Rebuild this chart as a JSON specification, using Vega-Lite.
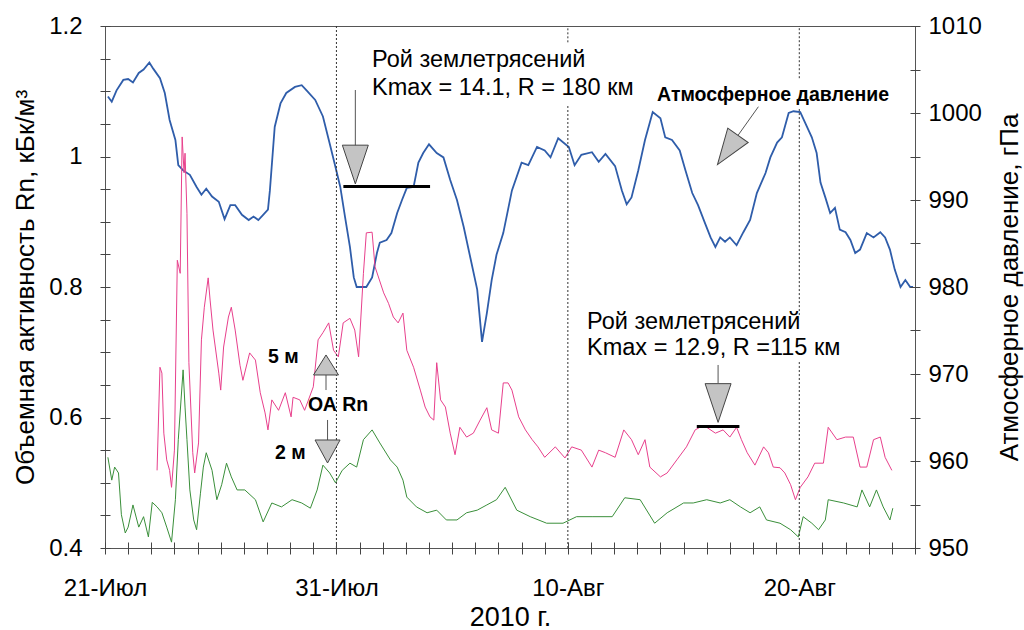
{
"$schema": "https://vega.github.io/schema/vega-lite/v6.json",
"width": 810,
"height": 522,
"autosize": {"type": "none"},
"padding": {"left": 105, "top": 26, "right": 109, "bottom": 82},
"config": {
  "view": {"stroke": "#555", "strokeWidth": 1},
  "font": "Liberation Sans",
  "axis": {"labelFont": "Liberation Sans", "titleFont": "Liberation Sans", "labelColor": "#000", "titleColor": "#000", "domain": false, "ticks": true, "tickColor": "#444", "tickWidth": 1, "tickOpacity": 1, "grid": false, "titleFontWeight": "normal", "labelOverlap": false, "labelBound": false, "zindex": 1}
},
"datasets": {
  "p": [
{"t":"2010-07-21T03:00","v":1001.9},{"t":"2010-07-21T07:00","v":1001.3},{"t":"2010-07-21T12:00","v":1002.6},{"t":"2010-07-21T19:00","v":1003.8},
{"t":"2010-07-22T00:00","v":1003.9},{"t":"2010-07-22T05:00","v":1003.5},{"t":"2010-07-22T11:00","v":1004.6},{"t":"2010-07-22T16:00","v":1005.0},
{"t":"2010-07-22T22:00","v":1005.8},{"t":"2010-07-23T02:00","v":1005.1},{"t":"2010-07-23T09:00","v":1004.0},{"t":"2010-07-23T14:00","v":1002.3},
{"t":"2010-07-23T19:00","v":999.2},{"t":"2010-07-24T01:00","v":996.9},{"t":"2010-07-24T04:00","v":994.0},{"t":"2010-07-24T09:00","v":993.4},
{"t":"2010-07-24T16:00","v":992.9},{"t":"2010-07-24T23:00","v":991.5},{"t":"2010-07-25T04:00","v":990.6},{"t":"2010-07-25T09:00","v":991.3},
{"t":"2010-07-25T15:00","v":990.4},{"t":"2010-07-25T22:00","v":989.8},{"t":"2010-07-26T04:00","v":987.8},{"t":"2010-07-26T10:00","v":989.4},
{"t":"2010-07-26T15:00","v":989.4},{"t":"2010-07-26T22:00","v":988.3},{"t":"2010-07-27T05:00","v":987.7},{"t":"2010-07-27T10:00","v":988.1},
{"t":"2010-07-27T15:00","v":987.7},{"t":"2010-07-27T20:00","v":988.3},{"t":"2010-07-28T01:00","v":988.9},{"t":"2010-07-28T03:00","v":991.1},
{"t":"2010-07-28T08:00","v":998.4},{"t":"2010-07-28T14:00","v":1001.1},{"t":"2010-07-28T20:00","v":1002.3},{"t":"2010-07-29T05:00","v":1003.0},
{"t":"2010-07-29T12:00","v":1003.2},{"t":"2010-07-29T17:00","v":1002.6},{"t":"2010-07-30T02:00","v":1001.5},{"t":"2010-07-30T10:00","v":999.6},
{"t":"2010-07-30T17:00","v":996.5},{"t":"2010-07-30T23:00","v":993.8},{"t":"2010-07-31T04:00","v":991.5},{"t":"2010-07-31T09:00","v":988.0},
{"t":"2010-07-31T14:00","v":984.6},{"t":"2010-07-31T18:00","v":981.1},{"t":"2010-07-31T21:00","v":980.0},{"t":"2010-08-01T07:00","v":980.0},
{"t":"2010-08-01T13:00","v":981.1},{"t":"2010-08-01T18:00","v":983.9},{"t":"2010-08-01T21:00","v":985.1},{"t":"2010-08-02T04:00","v":985.4},
{"t":"2010-08-02T09:00","v":986.2},{"t":"2010-08-02T15:00","v":988.5},{"t":"2010-08-02T20:00","v":990.0},{"t":"2010-08-03T01:00","v":991.4},
{"t":"2010-08-03T08:00","v":991.5},{"t":"2010-08-03T13:00","v":994.3},{"t":"2010-08-03T18:00","v":995.4},{"t":"2010-08-04T00:00","v":996.4},
{"t":"2010-08-04T08:00","v":995.4},{"t":"2010-08-04T15:00","v":994.9},{"t":"2010-08-04T22:00","v":992.3},{"t":"2010-08-05T05:00","v":990.0},
{"t":"2010-08-05T12:00","v":986.9},{"t":"2010-08-05T19:00","v":983.3},{"t":"2010-08-06T02:00","v":979.7},{"t":"2010-08-06T07:00","v":973.7},
{"t":"2010-08-06T12:00","v":977.0},{"t":"2010-08-06T17:00","v":980.8},{"t":"2010-08-06T22:00","v":983.7},{"t":"2010-08-07T05:00","v":986.2},
{"t":"2010-08-07T14:00","v":991.1},{"t":"2010-08-08T00:00","v":994.3},{"t":"2010-08-08T07:00","v":994.0},{"t":"2010-08-08T16:00","v":996.1},
{"t":"2010-08-09T00:00","v":995.7},{"t":"2010-08-09T06:00","v":994.9},{"t":"2010-08-09T14:00","v":997.1},{"t":"2010-08-10T01:00","v":996.1},
{"t":"2010-08-10T07:00","v":994.0},{"t":"2010-08-10T14:00","v":995.2},{"t":"2010-08-11T01:00","v":995.5},{"t":"2010-08-11T08:00","v":994.4},
{"t":"2010-08-11T15:00","v":995.3},{"t":"2010-08-12T01:00","v":993.9},{"t":"2010-08-12T08:00","v":991.1},{"t":"2010-08-12T13:00","v":989.5},
{"t":"2010-08-12T18:00","v":990.3},{"t":"2010-08-13T01:00","v":993.4},{"t":"2010-08-13T08:00","v":996.9},{"t":"2010-08-13T16:00","v":1000.1},
{"t":"2010-08-14T00:00","v":999.4},{"t":"2010-08-14T05:00","v":997.2},{"t":"2010-08-14T12:00","v":996.9},{"t":"2010-08-14T20:00","v":995.7},
{"t":"2010-08-15T02:00","v":993.4},{"t":"2010-08-15T09:00","v":990.8},{"t":"2010-08-15T15:00","v":989.4},{"t":"2010-08-15T22:00","v":987.4},
{"t":"2010-08-16T04:00","v":985.7},{"t":"2010-08-16T09:00","v":984.6},{"t":"2010-08-16T14:00","v":985.7},{"t":"2010-08-16T19:00","v":985.2},
{"t":"2010-08-17T00:00","v":985.7},{"t":"2010-08-17T07:00","v":984.8},{"t":"2010-08-17T14:00","v":986.3},{"t":"2010-08-17T21:00","v":987.7},
{"t":"2010-08-18T04:00","v":990.8},{"t":"2010-08-18T13:00","v":993.1},{"t":"2010-08-18T18:00","v":994.9},{"t":"2010-08-19T01:00","v":996.6},
{"t":"2010-08-19T06:00","v":997.2},{"t":"2010-08-19T13:00","v":1000.0},{"t":"2010-08-19T18:00","v":1000.2},{"t":"2010-08-20T01:00","v":1000.1},
{"t":"2010-08-20T06:00","v":998.9},{"t":"2010-08-20T13:00","v":997.2},{"t":"2010-08-20T18:00","v":995.4},{"t":"2010-08-20T22:00","v":992.0},
{"t":"2010-08-21T03:00","v":990.3},{"t":"2010-08-21T08:00","v":988.5},{"t":"2010-08-21T13:00","v":989.1},{"t":"2010-08-21T18:00","v":986.6},
{"t":"2010-08-22T00:00","v":986.3},{"t":"2010-08-22T05:00","v":985.4},{"t":"2010-08-22T10:00","v":983.9},{"t":"2010-08-22T15:00","v":984.3},
{"t":"2010-08-22T22:00","v":986.2},{"t":"2010-08-23T05:00","v":985.7},{"t":"2010-08-23T12:00","v":986.3},{"t":"2010-08-23T17:00","v":985.7},
{"t":"2010-08-23T22:00","v":984.3},{"t":"2010-08-24T03:00","v":982.0},{"t":"2010-08-24T09:00","v":980.0},{"t":"2010-08-24T14:00","v":980.8},
{"t":"2010-08-24T19:00","v":980.0},{"t":"2010-08-24T22:00","v":980.0}
  ],
  "r5": [
{"t":"2010-07-23T06:00","v":0.519},{"t":"2010-07-23T09:00","v":0.677},{"t":"2010-07-23T11:00","v":0.668},{"t":"2010-07-23T13:00","v":0.576},
{"t":"2010-07-23T16:00","v":0.535},{"t":"2010-07-23T19:00","v":0.519},{"t":"2010-07-23T21:00","v":0.493},{"t":"2010-07-24T00:00","v":0.550},
{"t":"2010-07-24T03:00","v":0.841},{"t":"2010-07-24T06:00","v":0.821},{"t":"2010-07-24T08:00","v":1.030},{"t":"2010-07-24T10:00","v":0.975},
{"t":"2010-07-24T11:00","v":1.005},{"t":"2010-07-24T13:00","v":0.913},{"t":"2010-07-24T15:00","v":0.684},{"t":"2010-07-24T19:00","v":0.546},
{"t":"2010-07-24T21:00","v":0.515},{"t":"2010-07-25T01:00","v":0.561},{"t":"2010-07-25T04:00","v":0.719},{"t":"2010-07-25T07:00","v":0.769},
{"t":"2010-07-25T11:00","v":0.814},{"t":"2010-07-25T13:00","v":0.780},{"t":"2010-07-25T16:00","v":0.734},{"t":"2010-07-25T22:00","v":0.668},
{"t":"2010-07-26T00:00","v":0.642},{"t":"2010-07-26T03:00","v":0.708},{"t":"2010-07-26T08:00","v":0.754},{"t":"2010-07-26T11:00","v":0.769},
{"t":"2010-07-26T15:00","v":0.734},{"t":"2010-07-26T20:00","v":0.680},{"t":"2010-07-26T23:00","v":0.657},{"t":"2010-07-27T06:00","v":0.699},
{"t":"2010-07-27T12:00","v":0.688},{"t":"2010-07-27T17:00","v":0.638},{"t":"2010-07-27T22:00","v":0.607},{"t":"2010-07-28T01:00","v":0.581},
{"t":"2010-07-28T05:00","v":0.627},{"t":"2010-07-28T12:00","v":0.611},{"t":"2010-07-28T19:00","v":0.638},{"t":"2010-07-29T01:00","v":0.601},
{"t":"2010-07-29T03:00","v":0.631},{"t":"2010-07-29T10:00","v":0.627},{"t":"2010-07-29T15:00","v":0.611},{"t":"2010-07-30T00:00","v":0.647},
{"t":"2010-07-30T05:00","v":0.719},{"t":"2010-07-30T10:00","v":0.730},{"t":"2010-07-30T16:00","v":0.745},{"t":"2010-07-30T21:00","v":0.703},
{"t":"2010-07-31T02:00","v":0.693},{"t":"2010-07-31T07:00","v":0.745},{"t":"2010-07-31T14:00","v":0.752},{"t":"2010-07-31T19:00","v":0.734},
{"t":"2010-07-31T23:00","v":0.693},{"t":"2010-08-01T04:00","v":0.821},{"t":"2010-08-01T07:00","v":0.883},{"t":"2010-08-01T13:00","v":0.884},
{"t":"2010-08-01T16:00","v":0.831},{"t":"2010-08-02T01:00","v":0.791},{"t":"2010-08-02T06:00","v":0.775},{"t":"2010-08-02T11:00","v":0.754},
{"t":"2010-08-02T16:00","v":0.745},{"t":"2010-08-02T21:00","v":0.760},{"t":"2010-08-03T01:00","v":0.703},{"t":"2010-08-03T08:00","v":0.677},
{"t":"2010-08-03T15:00","v":0.642},{"t":"2010-08-03T20:00","v":0.616},{"t":"2010-08-04T01:00","v":0.601},{"t":"2010-08-04T05:00","v":0.596},
{"t":"2010-08-04T08:00","v":0.684},{"t":"2010-08-04T12:00","v":0.627},{"t":"2010-08-04T17:00","v":0.616},{"t":"2010-08-04T22:00","v":0.576},
{"t":"2010-08-05T03:00","v":0.543},{"t":"2010-08-05T08:00","v":0.585},{"t":"2010-08-05T15:00","v":0.570},{"t":"2010-08-05T22:00","v":0.576},
{"t":"2010-08-06T05:00","v":0.596},{"t":"2010-08-06T12:00","v":0.615},{"t":"2010-08-06T17:00","v":0.581},{"t":"2010-08-07T00:00","v":0.576},
{"t":"2010-08-07T05:00","v":0.653},{"t":"2010-08-07T10:00","v":0.653},{"t":"2010-08-07T14:00","v":0.642},{"t":"2010-08-07T21:00","v":0.601},
{"t":"2010-08-08T04:00","v":0.581},{"t":"2010-08-08T11:00","v":0.566},{"t":"2010-08-08T17:00","v":0.555},{"t":"2010-08-09T00:00","v":0.539},
{"t":"2010-08-09T11:00","v":0.555},{"t":"2010-08-09T21:00","v":0.538},{"t":"2010-08-10T04:00","v":0.555},{"t":"2010-08-10T14:00","v":0.550},
{"t":"2010-08-11T01:00","v":0.524},{"t":"2010-08-11T08:00","v":0.550},{"t":"2010-08-11T15:00","v":0.546},{"t":"2010-08-12T01:00","v":0.539},
{"t":"2010-08-12T10:00","v":0.581},{"t":"2010-08-12T18:00","v":0.566},{"t":"2010-08-13T01:00","v":0.543},{"t":"2010-08-13T08:00","v":0.566},
{"t":"2010-08-13T13:00","v":0.524},{"t":"2010-08-14T00:00","v":0.509},{"t":"2010-08-14T07:00","v":0.515},{"t":"2010-08-14T17:00","v":0.535},
{"t":"2010-08-15T03:00","v":0.555},{"t":"2010-08-15T12:00","v":0.581},{"t":"2010-08-15T17:00","v":0.585},{"t":"2010-08-16T00:00","v":0.585},
{"t":"2010-08-16T09:00","v":0.576},{"t":"2010-08-16T17:00","v":0.581},{"t":"2010-08-17T00:00","v":0.570},{"t":"2010-08-17T07:00","v":0.585},
{"t":"2010-08-17T12:00","v":0.566},{"t":"2010-08-17T18:00","v":0.546},{"t":"2010-08-18T02:00","v":0.527},{"t":"2010-08-18T11:00","v":0.555},
{"t":"2010-08-18T16:00","v":0.546},{"t":"2010-08-18T21:00","v":0.524},{"t":"2010-08-19T04:00","v":0.523},{"t":"2010-08-19T09:00","v":0.515},
{"t":"2010-08-19T15:00","v":0.497},{"t":"2010-08-19T20:00","v":0.474},{"t":"2010-08-20T01:00","v":0.493},{"t":"2010-08-20T09:00","v":0.509},
{"t":"2010-08-20T16:00","v":0.530},{"t":"2010-08-21T01:00","v":0.530},{"t":"2010-08-21T06:00","v":0.585},{"t":"2010-08-21T15:00","v":0.566},
{"t":"2010-08-22T00:00","v":0.570},{"t":"2010-08-22T08:00","v":0.570},{"t":"2010-08-22T15:00","v":0.524},{"t":"2010-08-22T22:00","v":0.524},
{"t":"2010-08-23T05:00","v":0.566},{"t":"2010-08-23T12:00","v":0.570},{"t":"2010-08-23T17:00","v":0.539},{"t":"2010-08-24T00:00","v":0.519}
  ],
  "r2": [
{"t":"2010-07-21T03:00","v":0.539},{"t":"2010-07-21T07:00","v":0.504},{"t":"2010-07-21T10:00","v":0.524},{"t":"2010-07-21T14:00","v":0.515},
{"t":"2010-07-21T17:00","v":0.451},{"t":"2010-07-21T21:00","v":0.423},{"t":"2010-07-22T00:00","v":0.432},{"t":"2010-07-22T05:00","v":0.466},
{"t":"2010-07-22T11:00","v":0.432},{"t":"2010-07-22T16:00","v":0.448},{"t":"2010-07-22T21:00","v":0.417},{"t":"2010-07-23T01:00","v":0.470},
{"t":"2010-07-23T06:00","v":0.463},{"t":"2010-07-23T11:00","v":0.454},{"t":"2010-07-23T16:00","v":0.432},{"t":"2010-07-23T21:00","v":0.409},
{"t":"2010-07-24T01:00","v":0.474},{"t":"2010-07-24T04:00","v":0.566},{"t":"2010-07-24T09:00","v":0.673},{"t":"2010-07-24T11:00","v":0.616},
{"t":"2010-07-24T13:00","v":0.566},{"t":"2010-07-24T16:00","v":0.489},{"t":"2010-07-24T20:00","v":0.443},{"t":"2010-07-24T23:00","v":0.428},
{"t":"2010-07-25T03:00","v":0.484},{"t":"2010-07-25T06:00","v":0.524},{"t":"2010-07-25T09:00","v":0.546},{"t":"2010-07-25T15:00","v":0.519},
{"t":"2010-07-25T20:00","v":0.474},{"t":"2010-07-26T01:00","v":0.497},{"t":"2010-07-26T06:00","v":0.530},{"t":"2010-07-26T11:00","v":0.509},
{"t":"2010-07-26T17:00","v":0.489},{"t":"2010-07-27T01:00","v":0.489},{"t":"2010-07-27T12:00","v":0.474},{"t":"2010-07-27T20:00","v":0.440},
{"t":"2010-07-28T05:00","v":0.469},{"t":"2010-07-28T15:00","v":0.463},{"t":"2010-07-29T02:00","v":0.474},{"t":"2010-07-29T12:00","v":0.469},
{"t":"2010-07-29T21:00","v":0.461},{"t":"2010-07-30T04:00","v":0.489},{"t":"2010-07-30T10:00","v":0.527},{"t":"2010-07-30T17:00","v":0.515},
{"t":"2010-07-30T23:00","v":0.500},{"t":"2010-07-31T06:00","v":0.519},{"t":"2010-07-31T14:00","v":0.530},{"t":"2010-07-31T21:00","v":0.524},
{"t":"2010-08-01T04:00","v":0.566},{"t":"2010-08-01T13:00","v":0.581},{"t":"2010-08-01T21:00","v":0.561},{"t":"2010-08-02T08:00","v":0.535},
{"t":"2010-08-02T15:00","v":0.524},{"t":"2010-08-02T21:00","v":0.504},{"t":"2010-08-03T01:00","v":0.478},{"t":"2010-08-03T11:00","v":0.463},
{"t":"2010-08-03T22:00","v":0.454},{"t":"2010-08-04T08:00","v":0.458},{"t":"2010-08-04T18:00","v":0.443},{"t":"2010-08-05T05:00","v":0.443},
{"t":"2010-08-05T15:00","v":0.454},{"t":"2010-08-06T02:00","v":0.458},{"t":"2010-08-06T12:00","v":0.466},{"t":"2010-08-06T22:00","v":0.474},
{"t":"2010-08-07T07:00","v":0.493},{"t":"2010-08-07T19:00","v":0.458},{"t":"2010-08-08T09:00","v":0.448},{"t":"2010-08-09T02:00","v":0.438},
{"t":"2010-08-09T19:00","v":0.438},{"t":"2010-08-10T09:00","v":0.448},{"t":"2010-08-11T02:00","v":0.448},{"t":"2010-08-11T22:00","v":0.448},
{"t":"2010-08-12T11:00","v":0.477},{"t":"2010-08-13T03:00","v":0.474},{"t":"2010-08-13T18:00","v":0.438},{"t":"2010-08-14T07:00","v":0.454},
{"t":"2010-08-15T00:00","v":0.469},{"t":"2010-08-15T10:00","v":0.469},{"t":"2010-08-16T00:00","v":0.474},{"t":"2010-08-16T14:00","v":0.469},
{"t":"2010-08-17T00:00","v":0.474},{"t":"2010-08-17T11:00","v":0.463},{"t":"2010-08-17T21:00","v":0.454},{"t":"2010-08-18T07:00","v":0.463},
{"t":"2010-08-18T14:00","v":0.443},{"t":"2010-08-19T04:00","v":0.438},{"t":"2010-08-19T15:00","v":0.428},{"t":"2010-08-19T23:00","v":0.417},
{"t":"2010-08-20T04:00","v":0.448},{"t":"2010-08-20T13:00","v":0.438},{"t":"2010-08-20T20:00","v":0.428},{"t":"2010-08-21T03:00","v":0.443},
{"t":"2010-08-21T06:00","v":0.474},{"t":"2010-08-21T22:00","v":0.469},{"t":"2010-08-22T12:00","v":0.463},{"t":"2010-08-22T17:00","v":0.489},
{"t":"2010-08-23T01:00","v":0.463},{"t":"2010-08-23T08:00","v":0.489},{"t":"2010-08-23T15:00","v":0.463},{"t":"2010-08-23T22:00","v":0.443},
{"t":"2010-08-24T01:00","v":0.461}
  ]
},
"layer": [
  {
    "encoding": {
      "x": {"field": "t", "type": "temporal",
        "scale": {"domain": [{"year": 2010, "month": 7, "date": 21}, {"year": 2010, "month": 8, "date": 25}]},
        "axis": {"tickCount": {"interval": "day", "step": 1}, "ticks": true, "tickColor": "#444", "tickWidth": 1, "offset": -6, "tickSize": 12, "labelPadding": 22, "labelFontSize": 24,
          "labelExpr": "round((datum.value - datetime(2010,6,21))/864e5) % 10 == 0 ? (date(datum.value) + '-' + (month(datum.value) == 6 ? 'Июл' : 'Авг')) : ''",
          "title": "2010 г.", "titleFontSize": 27, "titlePadding": 4, "labelFlush": false, "zindex": 1}},
      "y": {"field": "v", "type": "quantitative", "scale": {"domain": [950, 1010]},
        "axis": {"orient": "right", "values": [950,955,960,965,970,975,980,985,990,995,1000,1005,1010],
          "labelExpr": "datum.value % 10 == 0 ? format(datum.value, 'd') : ''",
          "ticks": true, "tickColor": "#444", "tickWidth": 1,
          "offset": -5, "tickSize": 10, "labelPadding": 8, "labelFontSize": 24,
          "title": "Атмосферное давление, гПа", "titleFontSize": 26, "titleAngle": 270, "titleBaseline": "top", "titlePadding": 15, "zindex": 1}}},
    "layer": [
      {"data": {"name": "p"}, "mark": {"type": "line", "color": "#2f5daa", "strokeWidth": 1.8}}
    ]
  },
  {
    "encoding": {
      "x": {"field": "t", "type": "temporal",
        "scale": {"domain": [{"year": 2010, "month": 7, "date": 21}, {"year": 2010, "month": 8, "date": 25}]},
        "axis": null},
      "y": {"field": "v", "type": "quantitative", "scale": {"domain": [0.4, 1.2]},
        "axis": {"orient": "left", "values": [0.4,0.45,0.5,0.55,0.6,0.65,0.7,0.75,0.8,0.85,0.9,0.95,1,1.05,1.1,1.15,1.2],
          "labelExpr": "abs(datum.value*5 - round(datum.value*5)) < 0.01 ? (datum.value == 1 ? '1' : format(datum.value, '.1f')) : ''",
          "ticks": true, "tickColor": "#444", "tickWidth": 1,
          "offset": -5, "tickSize": 10, "labelPadding": 18, "labelFontSize": 24,
          "title": "Объемная активность Rn, кБк/м³", "titleFontSize": 26, "titlePadding": 10, "zindex": 1}}},
    "layer": [
      {"data": {"name": "r2"}, "mark": {"type": "line", "color": "#3a8f3a", "strokeWidth": 1}},
      {"data": {"name": "r5"}, "mark": {"type": "line", "color": "#e8408c", "strokeWidth": 1}}
    ]
  },
  {
    "encoding": {
      "x": {"field": "t", "type": "temporal",
        "scale": {"domain": [{"year": 2010, "month": 7, "date": 21}, {"year": 2010, "month": 8, "date": 25}]},
        "axis": null},
      "y": {"field": "v", "type": "quantitative", "scale": {"domain": [0.4, 1.2]}, "axis": null}},
    "layer": [
      {"data": {"values": [
        {"t": "2010-07-31T00:00", "v": 0.4, "v2": 1.2},
        {"t": "2010-08-10T00:00", "v": 0.4, "v2": 1.08},
        {"t": "2010-08-10T00:00", "v": 1.175, "v2": 1.2},
        {"t": "2010-08-20T00:00", "v": 0.4, "v2": 0.685},
        {"t": "2010-08-20T00:00", "v": 0.757, "v2": 1.075},
        {"t": "2010-08-20T00:00", "v": 1.12, "v2": 1.2}]},
       "mark": {"type": "rule", "color": "#333", "strokeWidth": 1, "strokeDash": [2, 2]},
       "encoding": {"y2": {"field": "v2"}}},
      {"data": {"values": [
        {"t": "2010-07-31T07:12", "t2": "2010-08-04T01:06", "v": 0.954},
        {"t": "2010-08-15T13:42", "t2": "2010-08-17T09:54", "v": 0.5862}]},
       "mark": {"type": "rule", "color": "#000", "strokeWidth": 3},
       "encoding": {"x2": {"field": "t2"}}},
      {"data": {"values": [
        {"t": "2010-07-31T19:36", "t2": "2010-07-31T19:36", "v": 1.1019, "v2": 1.0166},
        {"t": "2010-07-30T13:12", "t2": "2010-07-30T13:12", "v": 0.6651, "v2": 0.6421},
        {"t": "2010-07-30T14:48", "t2": "2010-07-30T14:48", "v": 0.5962, "v2": 0.5655},
        {"t": "2010-08-16T11:48", "t2": "2010-08-16T11:48", "v": 0.6805, "v2": 0.6529},
        {"t": "2010-08-18T05:36", "t2": "2010-08-17T08:24", "v": 1.0763, "v2": 1.0323}]},
       "mark": {"type": "rule", "color": "#555", "strokeWidth": 1},
       "encoding": {"x2": {"field": "t2"}, "y2": {"field": "v2"}}},
      {"data": {"values": [
        {"t": "2010-07-31T19:36", "v": 0.9877},
        {"t": "2010-08-16T11:48", "v": 0.6222}]},
       "mark": {"type": "point", "shape": "M-0.67,-1L0.67,-1L0,1Z", "size": 1500, "filled": true, "fill": "#c4c4c4", "stroke": "#444", "strokeWidth": 1, "opacity": 1}},
      {"data": {"values": [{"t": "2010-08-16T21:48", "v": 1.01}]},
       "mark": {"type": "point", "shape": "M-0.7,-1L0.7,-1L0,1Z", "size": 1274, "angle": 35, "filled": true, "fill": "#c4c4c4", "stroke": "#444", "strokeWidth": 1, "opacity": 1}},
      {"data": {"values": [{"t": "2010-07-30T14:48", "v": 0.5479}]},
       "mark": {"type": "point", "shape": "M-1.087,-1L1.087,-1L0,1Z", "size": 529, "filled": true, "fill": "#c4c4c4", "stroke": "#444", "strokeWidth": 1, "opacity": 1}},
      {"data": {"values": [{"t": "2010-07-30T13:12", "v": 0.6805}]},
       "mark": {"type": "point", "shape": "M0,-1L1.25,1L-1.25,1Z", "size": 400, "filled": true, "fill": "#c4c4c4", "stroke": "#444", "strokeWidth": 1, "opacity": 1}},
      {"data": {"values": [
        {"t": "2010-08-01T12:54", "v": 1.1479, "txt": "Рой землетрясений"},
        {"t": "2010-08-01T12:54", "v": 1.105, "txt": "Kmax = 14.1, R = 180 км"},
        {"t": "2010-08-10T19:54", "v": 0.7464, "txt": "Рой землетрясений"},
        {"t": "2010-08-10T19:54", "v": 0.7065, "txt": "Kmax = 12.9, R =115 км"}]},
       "mark": {"type": "text", "align": "left", "baseline": "middle", "fontSize": 23.5, "font": "Liberation Sans", "color": "#000"},
       "encoding": {"text": {"field": "txt"}}},
      {"data": {"values": [
        {"t": "2010-08-13T20:30", "v": 1.0943, "txt": "Атмосферное давление"},
        {"t": "2010-07-28T01:06", "v": 0.6927, "txt": "5 м"},
        {"t": "2010-07-29T18:36", "v": 0.6192, "txt": "ОА Rn"},
        {"t": "2010-07-28T08:18", "v": 0.5456, "txt": "2 м"}]},
       "mark": {"type": "text", "align": "left", "baseline": "middle", "fontSize": 19.5, "fontWeight": "bold", "font": "Liberation Sans", "color": "#000"},
       "encoding": {"text": {"field": "txt"}}}
    ]
  }
],
"resolve": {"scale": {"y": "independent"}, "axis": {"x": "independent", "y": "independent"}}
}
